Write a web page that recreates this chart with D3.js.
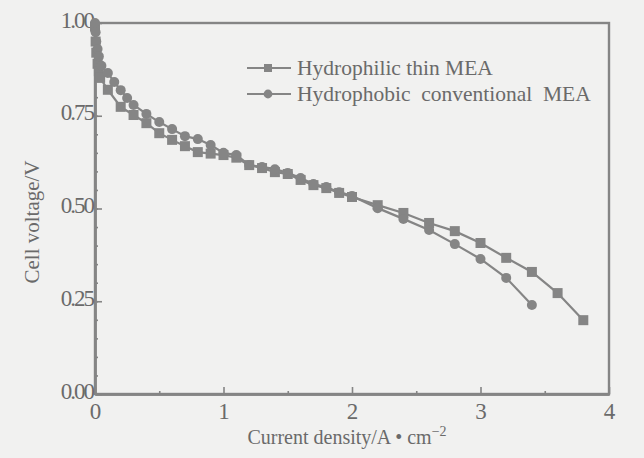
<!DOCTYPE html>
<html>
<head>
<meta charset="utf-8">
<script src="https://cdn.jsdelivr.net/npm/d3@7"></script>
<style>
  body { margin: 0; background: #f1f1f0; }
  svg { display: block; }
  text { font-family: "Liberation Serif", "DejaVu Serif", serif; fill: #6a6a6a; }
</style>
</head>
<body>
<script>
const xThin = [0, 0.005, 0.01, 0.02, 0.03, 0.04, 0.1, 0.2, 0.3, 0.4, 0.5, 0.6, 0.7, 0.8, 0.9, 1.0, 1.1, 1.2, 1.3, 1.4, 1.5, 1.6, 1.7, 1.8, 1.9, 2.0, 2.2, 2.4, 2.6, 2.8, 3.0, 3.2, 3.4, 3.6, 3.8]
const vThin = [0.99, 0.95, 0.92, 0.89, 0.87, 0.852, 0.82, 0.774, 0.752, 0.730, 0.703, 0.685, 0.668, 0.652, 0.648, 0.644, 0.637, 0.617, 0.609, 0.598, 0.593, 0.577, 0.563, 0.555, 0.542, 0.531, 0.509, 0.488, 0.461, 0.439, 0.407, 0.367, 0.329, 0.272, 0.199]
const xConv = [0, 0.005, 0.01, 0.02, 0.03, 0.05, 0.1, 0.15, 0.2, 0.25, 0.3, 0.4, 0.5, 0.6, 0.7, 0.8, 0.9, 1.0, 1.1, 1.2, 1.3, 1.4, 1.5, 1.6, 1.7, 1.8, 1.9, 2.0, 2.2, 2.4, 2.6, 2.8, 3.0, 3.2, 3.4]
const vConv = [1.0, 0.975, 0.95, 0.93, 0.91, 0.885, 0.865, 0.841, 0.819, 0.798, 0.779, 0.755, 0.733, 0.714, 0.695, 0.687, 0.671, 0.650, 0.644, 0.617, 0.612, 0.606, 0.596, 0.582, 0.566, 0.558, 0.544, 0.534, 0.501, 0.472, 0.442, 0.404, 0.364, 0.313, 0.240]
const seriesNames = ["Hydrophilic thin MEA", "Hydrophobic  conventional  MEA"]
const xTicks = [0, 1, 2, 3, 4]
const yTicks = [0, 0.25, 0.5, 0.75, 1.0]

const w = 644, h = 458
const grey = "#858585"
const svg = d3.select("body").append("svg").attr("width", w).attr("height", h)

const xScale = d3.scaleLinear().domain([0, 4]).range([95, 609])
const yScale = d3.scaleLinear().domain([0, 1]).range([394, 23])

// frame
svg.append("rect").attr("x", xScale(0)).attr("y", yScale(1)).attr("width", xScale(4) - xScale(0)).attr("height", yScale(0) - yScale(1)).attr("fill", "none").attr("stroke", grey).attr("stroke-width", 2.4)

// minor ticks
svg.append("g").attr("transform", "translate(" + xScale(0) + ",0)").call(d3.axisLeft(yScale).tickValues(d3.range(0, 1.001, 0.05)).tickSizeInner(-3).tickSizeOuter(0).tickFormat(""))
svg.append("g").attr("transform", "translate(0," + yScale(0) + ")").call(d3.axisBottom(xScale).tickValues(d3.range(0.5, 4, 1)).tickSizeInner(-3).tickSizeOuter(0).tickFormat(""))
// major ticks
const yAxis = svg.append("g").attr("transform", "translate(" + xScale(0) + ",0)").call(d3.axisLeft(yScale).tickValues(yTicks).tickSizeInner(-7).tickSizeOuter(0).tickPadding(2).tickFormat(d3.format(".2f")))
const xAxis = svg.append("g").attr("transform", "translate(0," + yScale(0) + ")").call(d3.axisBottom(xScale).tickValues(xTicks).tickSizeInner(-7).tickSizeOuter(0).tickPadding(9).tickFormat(d3.format("d")))
svg.selectAll(".domain").attr("stroke", grey).attr("stroke-width", 2.4)
svg.selectAll(".tick line").attr("stroke", grey).attr("stroke-width", 1.6)
yAxis.selectAll("text").attr("font-size", 23).attr("letter-spacing", -2).attr("dy", "0.18em").attr("fill", "#6a6a6a").style("font-family", "Liberation Serif")
xAxis.selectAll("text").attr("font-size", 23).attr("fill", "#6a6a6a").style("font-family", "Liberation Serif")

// axis titles
const xt = svg.append("text").attr("x", 347).attr("y", 444).attr("text-anchor", "middle").attr("font-size", 20)
xt.append("tspan").text("Current  density/A \u2022 cm")
xt.append("tspan").attr("dy", -8).attr("font-size", 14).text("\u22122")
svg.append("text").attr("transform", "translate(39,222) rotate(-90)").attr("text-anchor", "middle").attr("font-size", 21).text("Cell  voltage/V")

// series
const line = d3.line().x(d => xScale(d[0])).y(d => yScale(d[1]))
const thin = d3.zip(xThin, vThin)
const conv = d3.zip(xConv, vConv)
svg.append("path").datum(thin).attr("d", line).attr("fill", "none").attr("stroke", grey).attr("stroke-width", 2.2)
svg.append("path").datum(conv).attr("d", line).attr("fill", "none").attr("stroke", grey).attr("stroke-width", 2.2)
svg.selectAll("rect.sq").data(thin).enter().append("rect").attr("class", "sq").attr("x", d => xScale(d[0]) - 5).attr("y", d => yScale(d[1]) - 5).attr("width", 10).attr("height", 10).attr("fill", grey)
svg.selectAll("circle.ci").data(conv).enter().append("circle").attr("class", "ci").attr("cx", d => xScale(d[0])).attr("cy", d => yScale(d[1])).attr("r", 5).attr("fill", grey)

// legend
const lg = svg.append("g")
seriesNames.forEach((name, i) => {
  const y = 68 + i * 26
  lg.append("line").attr("x1", 247).attr("x2", 291).attr("y1", y).attr("y2", y).attr("stroke", grey).attr("stroke-width", 2.2)
  if (i === 0) lg.append("rect").attr("x", 264).attr("y", y - 4).attr("width", 8).attr("height", 8).attr("fill", grey)
  else lg.append("circle").attr("cx", 268).attr("cy", y).attr("r", 4.4).attr("fill", grey)
  lg.append("text").attr("x", 297).attr("y", y + 7).attr("font-size", 21.5).style("white-space", "pre").attr("xml:space", "preserve").text(name)
})
</script>
</body>
</html>
